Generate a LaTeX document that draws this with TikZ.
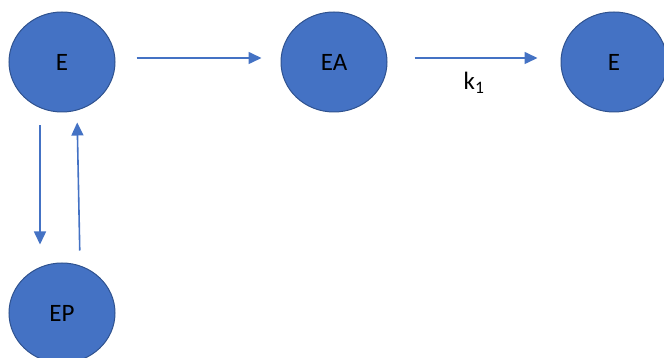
\documentclass[tikz,border=0pt]{standalone}
\usepackage{fontspec}
\setmainfont{Carlito}
\usetikzlibrary{shapes.geometric,arrows.meta}
\definecolor{nodeblue}{HTML}{4472C4}
\definecolor{nodeedge}{HTML}{2F528F}
\tikzset{
  species/.style={ellipse, fill=nodeblue, draw=nodeedge, line width=1pt,
    minimum width=106pt, minimum height=100pt, inner sep=0pt,
    font=\fontsize{25}{28}\selectfont, text=black},
  react/.style={draw=nodeblue, line width=1.6pt,
    -{Triangle[length=13pt,width=12pt]}}
}
\begin{document}
\begin{tikzpicture}[x=1pt,y=-1pt]
  \useasboundingbox (0,0) rectangle (664,358);
  \clip (0,0) rectangle (664,358);
  \node[species] (e1) at (62,62) {E};
  \node[species] (ea) at (334,62) {EA};
  \node[species] (e2) at (614,62) {E};
  \node[species] (ep) at (62,313) {EP};
  % binding and catalytic steps
  \draw[react, shorten <=21pt, shorten >=19pt] ([yshift=4pt]e1.east) -- ([yshift=4pt]ea.west);
  \draw[react, shorten <=27pt, shorten >=23pt] ([yshift=4pt]ea.east) -- node[below=10pt, font=\fontsize{25}{28}\selectfont]{k\textsubscript{1}} ([yshift=4pt]e2.west);
  % phosphorylation / dephosphorylation
  \draw[react, shorten <=13pt, shorten >=18pt] ([xshift=-22pt]e1.south) -- ([xshift=-22pt]ep.north);
  \draw[react, shorten <=12pt, shorten >=10pt] ([xshift=18pt]ep.north) -- ([xshift=15pt]e1.south);
\end{tikzpicture}
\end{document}
